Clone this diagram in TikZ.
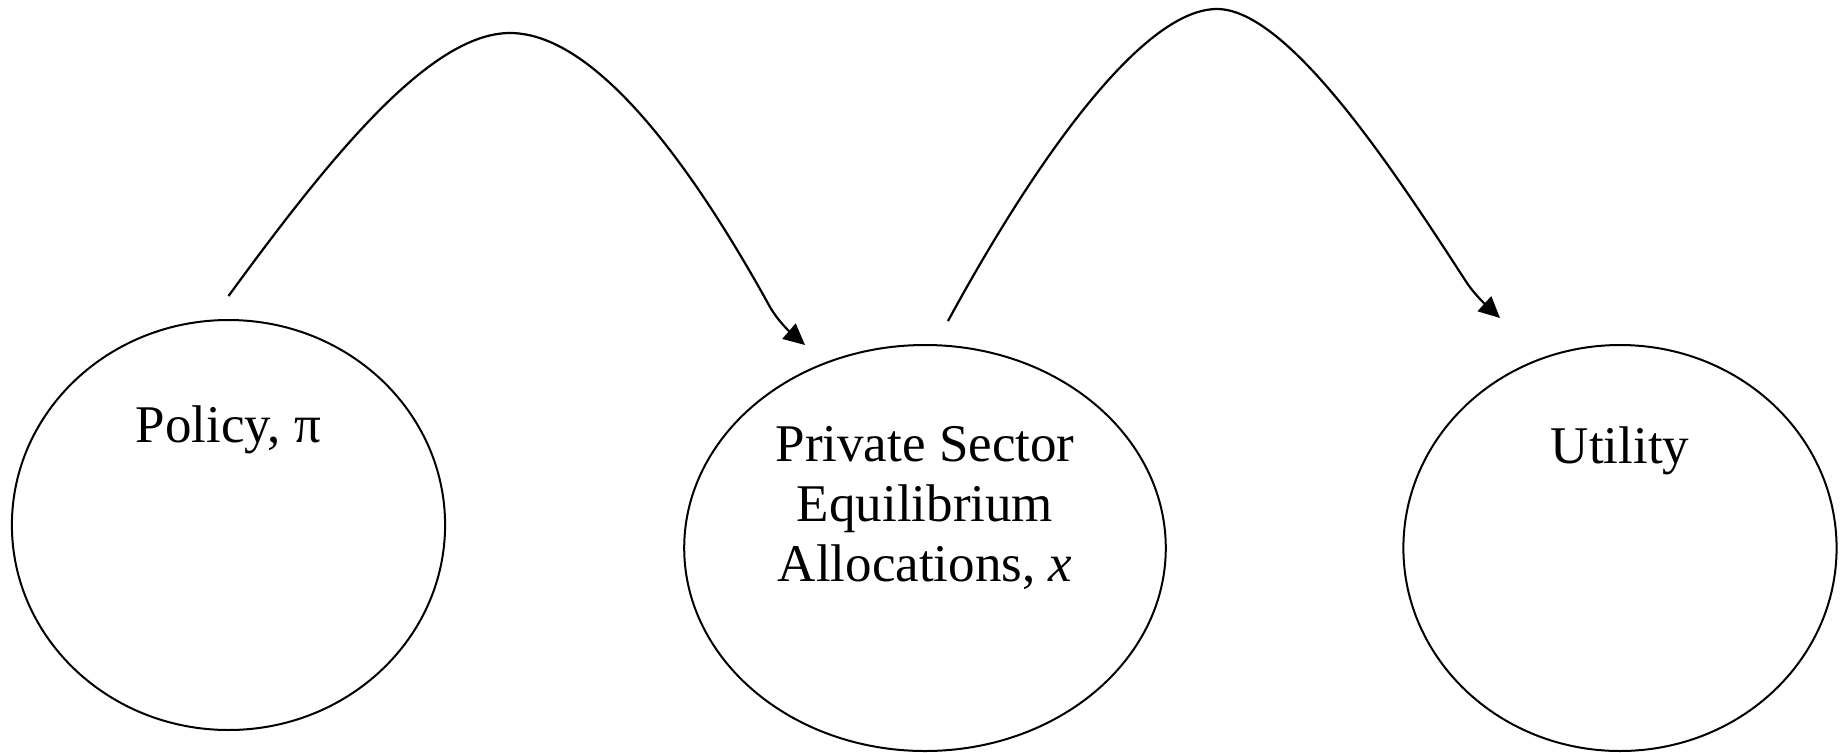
\documentclass[tikz,border=0pt]{standalone}
\usepackage{fontspec}
\setmainfont{Liberation Serif}
\usepackage{tikz}
\usetikzlibrary{shapes.geometric, arrows.meta, calc}

\begin{document}
\begin{tikzpicture}[
  x=0.25pt, y=-0.25pt, % unités en pixels de la figure
  bulle/.style={ellipse, draw, line width=0.5pt, inner sep=0pt, minimum height=102pt},
  lbl/.style={font=\fontsize{13.25pt}{15.1pt}\selectfont, inner sep=0pt, align=center},
  arr/.style={-{Triangle[length=5.3pt, width=5pt]}, line width=0.55pt}
]
\useasboundingbox (0,0) rectangle (1846,752);

% Les trois ellipses
\node[bulle, minimum width=108.3pt, minimum height=102.5pt] (policy) at (228.5,525) {};
\node[bulle, minimum width=120.4pt, minimum height=101.5pt] (private) at (925,548) {};
\node[bulle, minimum width=108.3pt, minimum height=101.5pt] (utility) at (1620,548) {};

% Textes
\node[lbl, anchor=base] (tpolicy) at ($(policy.center)+(0,-83)$) {Policy, π};
\node[lbl] (tprivate) at ($(private.center)+(0,-40)$) {Private Sector\\Equilibrium\\Allocations, \textit{x}};
\node[lbl, anchor=base] (tutility) at ($(utility.center)+(0,-85)$) {Utility};

% Extrémités des flèches
\coordinate (a1s) at ($(policy.north)+(0,-23)$);
\coordinate (a1e) at (805,345);
\coordinate (a2s) at ($(private.north)+(23,-23)$);
\coordinate (a2e) at (1500,318);

% Flèches
\draw[arr] (a1s) .. controls (330,157) and (430,33) .. (510,33)
  .. controls (600,33) and (700,180) .. (770,307)
  .. controls (778,321) and (790,332) .. (a1e);
\draw[arr] (a2s) .. controls (1030,170) and (1140,9) .. (1217,9)
  .. controls (1290,9) and (1400,180) .. (1467,283)
  .. controls (1475,295) and (1488,307) .. (a2e);

\end{tikzpicture}
\end{document}
